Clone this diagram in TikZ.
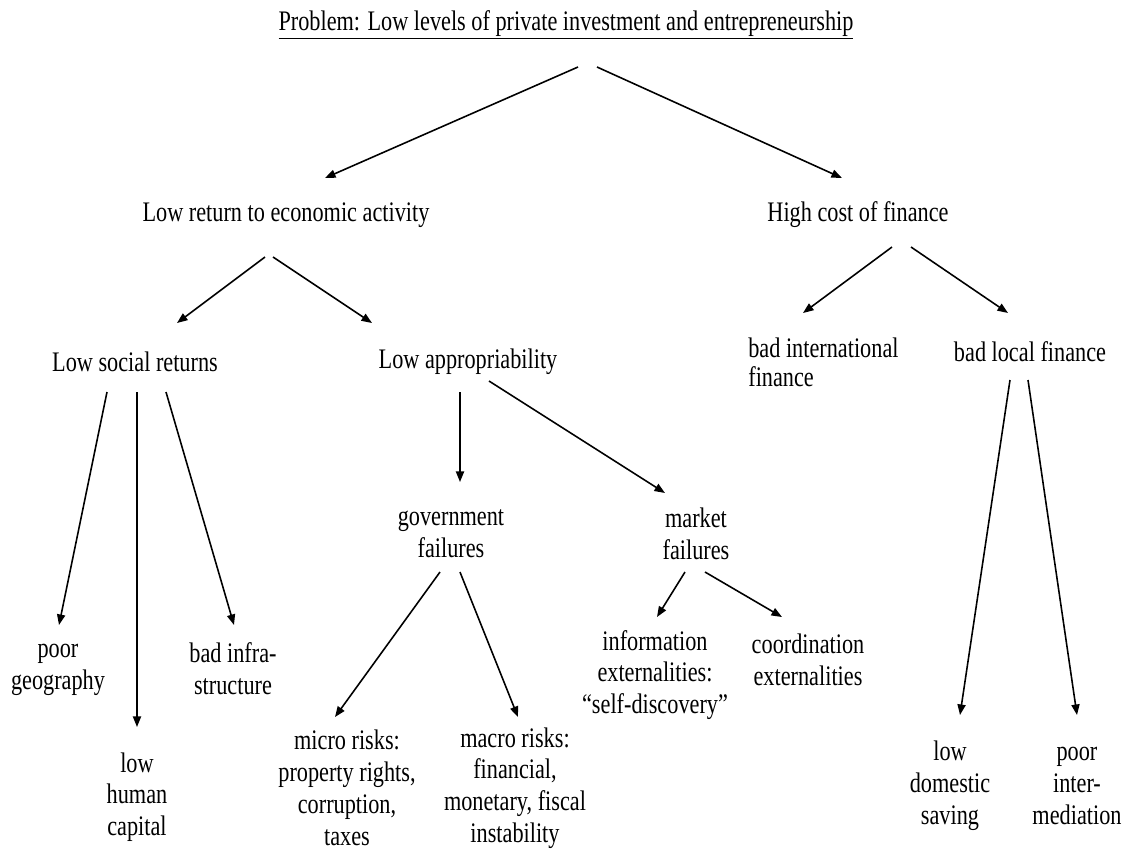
\documentclass[tikz,border=0pt]{standalone}
\usepackage{fontspec}
\setmainfont{Liberation Serif}[FakeStretch=0.787]
\usepackage{tikz}
\usetikzlibrary{arrows.meta}

\tikzset{
	txt/.style   = {inner sep=0pt, align=center, font=\fontsize{16.1}{18.1}\selectfont},
	link/.style  = {-{Triangle[length=6pt,width=4.6pt]}, line width=0.9pt}
}

\begin{document}
\begin{tikzpicture}[x=0.02cm, y=-0.02cm]
	\useasboundingbox (0,0) rectangle (1130,850);

	\node [txt]             (prob)     at (566,25)  {\underline{Problem: Low levels of private investment and entrepreneurship}};
	\node [txt]             (lowret)   at (286,215) {Low return to economic activity};
	\node [txt]             (highcost) at (858,215) {High cost of finance};
	\node [txt]             (social)   at (135,362) {Low social returns};
	\node [txt]             (approp)   at (468,362) {Low appropriability};
	\node [txt,anchor=west,align=left,font=\fontsize{16.1}{16.6}\selectfont] (intl) at (748,362) {bad international\\finance};
	\node [txt]             (local)    at (1030,352) {bad local finance};
	\node [txt]             (geo)      at (58,670)  {poor\\geography};
	\node [txt]             (human)    at (137,797) {low\\human\\capital};
	\node [txt]             (infra)    at (233,669) {bad infra-\\structure};
	\node [txt]             (gov)      at (451,534) {government\\failures};
	\node [txt]             (market)   at (696,534) {market\\failures};
	\node [txt]             (info)     at (655,675) {information\\externalities:\\``self-discovery''};
	\node [txt]             (coord)    at (808,660) {coordination\\externalities};
	\node [txt]             (micro)    at (347,788) {micro risks:\\property rights,\\corruption,\\taxes};
	\node [txt]             (macro)    at (515,788) {macro risks:\\financial,\\monetary, fiscal\\instability};
	\node [txt]             (saving)   at (950,786) {low\\domestic\\saving};
	\node [txt]             (interm)   at (1077,786) {poor\\inter-\\mediation};

	\coordinate (prob-l)   at (578,67);   \coordinate (lowret-in)   at (325,178);
	\coordinate (prob-r)   at (597,67);   \coordinate (highcost-in) at (842,178);
	\coordinate (lowret-l) at (265,257);  \coordinate (social-in)   at (177,323);
	\coordinate (lowret-r) at (273,257);  \coordinate (approp-in)   at (372,323);
	\coordinate (high-l)   at (892,247);  \coordinate (intl-in)     at (803,313);
	\coordinate (high-r)   at (911,247);  \coordinate (local-in)    at (1008,313);
	\coordinate (social-a) at (107,392);  \coordinate (geo-in)      at (59,625);
	\coordinate (social-b) at (137,392);  \coordinate (human-in)    at (137,727);
	\coordinate (social-c) at (166,392);  \coordinate (infra-in)    at (234,625);
	\coordinate (approp-l) at (460,392);  \coordinate (gov-in)      at (460,482);
	\coordinate (approp-r) at (489,381);  \coordinate (market-in)   at (665,493);
	\coordinate (gov-l)    at (440,572);  \coordinate (micro-in)    at (335,717);
	\coordinate (gov-r)    at (460,572);  \coordinate (macro-in)    at (518,717);
	\coordinate (market-l) at (685,572);  \coordinate (info-in)     at (657,617);
	\coordinate (market-r) at (705,572);  \coordinate (coord-in)    at (782,617);
	\coordinate (local-l)  at (1010,380); \coordinate (saving-in)   at (960,715);
	\coordinate (local-r)  at (1028,380); \coordinate (interm-in)   at (1077,715);

	\foreach \a/\b in {prob-l/lowret-in, prob-r/highcost-in, lowret-l/social-in,
		lowret-r/approp-in, high-l/intl-in, high-r/local-in, social-a/geo-in,
		social-b/human-in, social-c/infra-in, approp-l/gov-in, approp-r/market-in,
		gov-l/micro-in, gov-r/macro-in, market-l/info-in, market-r/coord-in,
		local-l/saving-in, local-r/interm-in}
		\draw [link] (\a) -- (\b);
\end{tikzpicture}
\end{document}
